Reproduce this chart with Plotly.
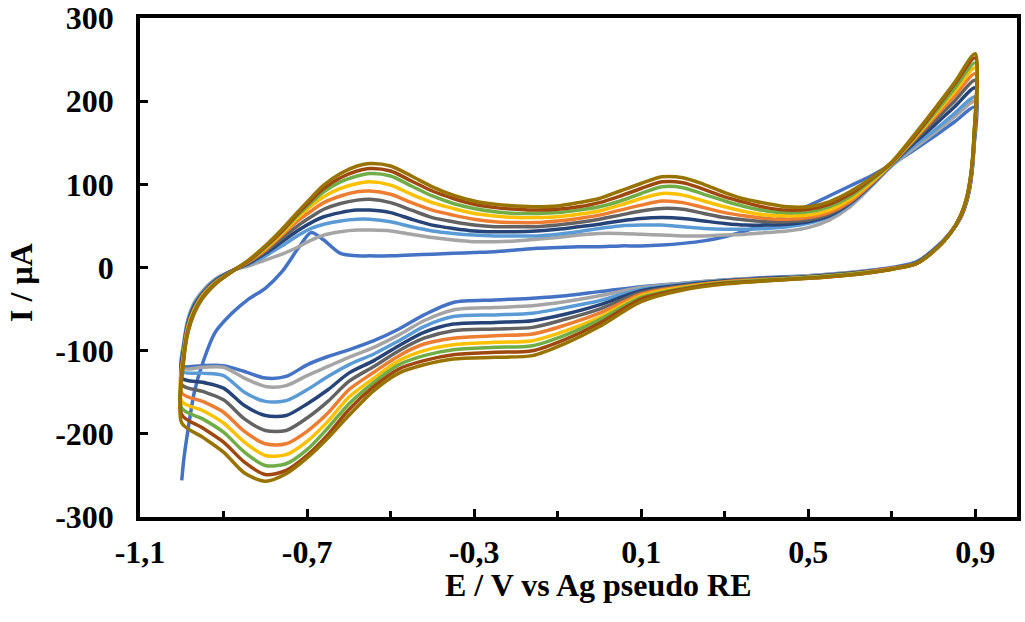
import plotly.graph_objects as go

# Potential grids (V vs Ag pseudo RE)
E_FWD = [-1.0, -0.995, -0.985, -0.97, -0.95, -0.92, -0.88, -0.84, -0.8, -0.76,
         -0.72, -0.69, -0.66, -0.62, -0.58, -0.55, -0.5, -0.45, -0.4, -0.35,
         -0.3, -0.25, -0.2, -0.15, -0.1, -0.05, 0.0, 0.05, 0.1, 0.15,
         0.2, 0.25, 0.3, 0.35, 0.4, 0.45, 0.5, 0.55, 0.6, 0.65,
         0.7, 0.75, 0.8, 0.85, 0.9]
E_REV = [0.897, 0.89, 0.88, 0.865, 0.84, 0.81, 0.76, 0.7, 0.6, 0.5,
         0.4, 0.3, 0.2, 0.1, 0.0, -0.08, -0.16, -0.25, -0.35, -0.42,
         -0.48, -0.54, -0.6, -0.65, -0.7, -0.75, -0.8, -0.85, -0.9, -0.95, -1.0]

# Anodic sweeps, current in uA (one list per cycle)
fwd_1 = [-256, -230, -195, -150, -115, -78, -55, -38, -25, -5, 24, 42, 33, 17, 14, 14, 14, 15, 16, 17,
         18, 19, 21, 23, 24, 25, 25, 26, 26, 27, 29, 32, 37, 44, 53, 63, 74, 86, 98, 110, 124, 140, 157, 175, 193]
fwd_2 = [-121, -90, -62, -42, -28, -14, -4, 2, 9, 16, 25, 33, 39, 43, 45, 45, 44, 40, 36, 33,
         31, 31, 32, 34, 36, 39, 41, 41, 40, 39, 38, 38, 39, 40, 42, 44, 48, 57, 73, 97, 122, 142, 161, 181, 200]
fwd_3 = [-125, -92, -64, -44, -30, -15, -4, 4, 14, 26, 39, 47, 52, 56, 58, 58, 55, 49, 44, 41,
         39, 38, 38, 38, 40, 43, 47, 50, 51, 51, 49, 47, 46, 46, 47, 49, 53, 61, 76, 98, 123, 145, 164, 185, 205]
fwd_4 = [-133, -95, -66, -46, -31, -16, -4, 5, 17, 31, 45, 54, 61, 66, 69, 69, 66, 58, 51, 47,
         44, 43, 43, 44, 46, 49, 52, 56, 59, 60, 59, 56, 53, 51, 51, 52, 55, 62, 77, 99, 124, 148, 170, 193, 216]
fwd_5 = [-141, -98, -68, -48, -32, -17, -4, 6, 19, 35, 51, 61, 70, 77, 81, 82, 78, 69, 60, 55,
         51, 49, 49, 49, 51, 54, 58, 63, 68, 71, 70, 65, 60, 57, 55, 55, 57, 64, 78, 100, 124, 150, 175, 200, 225]
fwd_6 = [-151, -101, -70, -50, -33, -18, -5, 7, 21, 39, 57, 68, 78, 86, 91, 92, 88, 78, 69, 63,
         58, 55, 54, 54, 56, 59, 63, 69, 75, 80, 78, 72, 66, 62, 59, 58, 60, 66, 79, 100, 125, 152, 179, 206, 233]
fwd_7 = [-161, -104, -72, -51, -34, -19, -5, 8, 23, 41, 61, 74, 85, 95, 101, 103, 99, 88, 78, 71,
         65, 62, 60, 60, 61, 64, 68, 75, 83, 89, 87, 80, 73, 67, 63, 62, 63, 69, 82, 102, 125, 153, 182, 211, 240]
fwd_8 = [-169, -106, -74, -52, -35, -19, -5, 8, 24, 43, 64, 78, 91, 103, 110, 113, 110, 98, 86, 77,
         71, 67, 65, 65, 66, 69, 73, 80, 89, 97, 96, 88, 80, 73, 68, 66, 67, 73, 85, 104, 126, 154, 184, 215, 246]
fwd_9 = [-177, -108, -76, -54, -36, -20, -5, 8, 25, 44, 66, 81, 95, 108, 116, 119, 116, 104, 92, 83,
         76, 72, 70, 69, 70, 73, 78, 86, 95, 103, 102, 94, 85, 78, 72, 69, 70, 76, 88, 106, 126, 155, 187, 220, 252]
fwd_10 = [-187, -110, -78, -55, -37, -20, -5, 9, 26, 46, 68, 84, 99, 113, 122, 125, 122, 110, 97, 87,
          80, 76, 74, 73, 74, 78, 83, 92, 101, 109, 108, 100, 90, 82, 77, 73, 73, 79, 91, 107, 127, 157, 189, 222, 257]

# Cathodic sweeps, current in uA (one list per cycle)
rev_1 = [145, 105, 80, 60, 42, 26, 7, 0, -6, -10, -12, -15, -19, -23, -29, -34, -37, -39,
         -42, -57, -74, -88, -99, -107, -117, -131, -133, -125, -118, -118, -120]
rev_2 = [147, 106, 80, 60, 41, 25, 6, -1, -6, -10, -13, -15, -19, -24, -34, -41, -46, -48,
         -51, -64, -81, -96, -108, -119, -130, -142, -143, -133, -120, -120, -121]
rev_3 = [148, 107, 81, 60, 41, 25, 6, -1, -7, -11, -13, -16, -20, -26, -40, -48, -55, -57,
         -59, -71, -88, -104, -117, -131, -147, -160, -161, -150, -130, -127, -125]
rev_4 = [150, 108, 82, 61, 41, 25, 6, -1, -7, -11, -13, -16, -21, -28, -45, -56, -64, -66,
         -68, -78, -94, -112, -127, -147, -164, -178, -178, -166, -145, -138, -133]
rev_5 = [152, 109, 82, 61, 41, 24, 5, -1, -7, -11, -14, -17, -22, -30, -50, -62, -72, -74,
         -76, -85, -100, -119, -137, -161, -181, -196, -196, -182, -159, -149, -141]
rev_6 = [153, 110, 83, 61, 41, 24, 5, -1, -8, -12, -14, -17, -23, -32, -55, -69, -80, -82,
         -85, -92, -106, -126, -147, -175, -197, -212, -212, -197, -174, -161, -151]
rev_7 = [155, 111, 84, 62, 41, 24, 5, -2, -8, -12, -15, -18, -24, -34, -60, -76, -88, -90,
         -93, -100, -112, -133, -156, -185, -209, -225, -226, -210, -187, -172, -161]
rev_8 = [156, 112, 84, 62, 41, 24, 5, -2, -8, -12, -15, -18, -25, -36, -63, -81, -94, -96,
         -99, -106, -117, -138, -164, -193, -219, -236, -238, -222, -198, -182, -169]
rev_9 = [157, 113, 85, 62, 41, 24, 5, -2, -9, -13, -16, -19, -26, -38, -67, -86, -100, -102,
         -105, -112, -122, -143, -171, -201, -226, -244, -249, -234, -210, -193, -177]
rev_10 = [158, 114, 85, 63, 41, 24, 5, -2, -9, -13, -16, -20, -27, -41, -71, -91, -106, -108,
          -110, -117, -127, -148, -178, -205, -229, -248, -257, -247, -222, -204, -187]

FWD = [fwd_1, fwd_2, fwd_3, fwd_4, fwd_5, fwd_6, fwd_7, fwd_8, fwd_9, fwd_10]
REV = [rev_1, rev_2, rev_3, rev_4, rev_5, rev_6, rev_7, rev_8, rev_9, rev_10]
CYCLES = [f"Cycle {i}" for i in range(1, 11)]
COLORS = ["#4472C4", "#A5A5A5", "#5B9BD5", "#264478", "#636363",
          "#ED7D31", "#FFC000", "#70AD47", "#9E480E", "#997300"]

X_TICKS = [-1.1, -0.7, -0.3, 0.1, 0.5, 0.9]
X_TICK_TEXT = ["-1,1", "-0,7", "-0,3", "0,1", "0,5", "0,9"]
X_MINOR = [-0.9, -0.5, -0.1, 0.3, 0.7]
Y_TICKS = [-300, -200, -100, 0, 100, 200, 300]
Y_TICK_TEXT = ["-300", "-200", "-100", "0", "100", "200", "300"]

FONT = "Liberation Serif, Times New Roman, serif"
BOLD = dict(family=FONT, size=32, color="black", weight="bold")

fig = go.Figure()
for name, color, fwd, rev in zip(CYCLES, COLORS, FWD, REV):
    fig.add_trace(go.Scatter(
        x=E_FWD + E_REV, y=fwd + rev, name=name, mode="lines",
        line=dict(color=color, width=3.5, shape="spline", smoothing=0.8),
        hoverinfo="skip", showlegend=False,
    ))

axis_common = dict(
    showgrid=False, zeroline=False, showline=True, linecolor="black",
    linewidth=3.5, mirror=True, ticks="inside", tickcolor="black",
    ticklen=8, tickwidth=3, automargin=False, tickfont=BOLD,
)

fig.update_xaxes(range=[-1.1, 1.0], tickvals=X_TICKS, ticktext=X_TICK_TEXT,
                 minor=dict(ticks="inside", tickvals=X_MINOR,
                            ticklen=6, tickwidth=3, tickcolor="black"),
                 ticklabelstandoff=4, **axis_common)
fig.update_yaxes(range=[-300, 300], tickvals=Y_TICKS, ticktext=Y_TICK_TEXT,
                 ticklabelstandoff=16, **axis_common)

fig.add_annotation(text="E / V vs Ag pseudo RE", xref="paper", yref="paper",
                   x=0.522, y=-0.137, xanchor="center", yanchor="middle",
                   showarrow=False, font=BOLD)
fig.add_annotation(text="I / µA", xref="paper", yref="paper",
                   x=-0.135, y=0.47, xanchor="center", yanchor="middle",
                   textangle=-90, showarrow=False, font=BOLD)

fig.update_layout(
    width=1025, height=622,
    margin=dict(l=140, r=8, t=18, b=105),
    paper_bgcolor="white", plot_bgcolor="white",
    showlegend=False,
)

fig.write_html("out.html")
